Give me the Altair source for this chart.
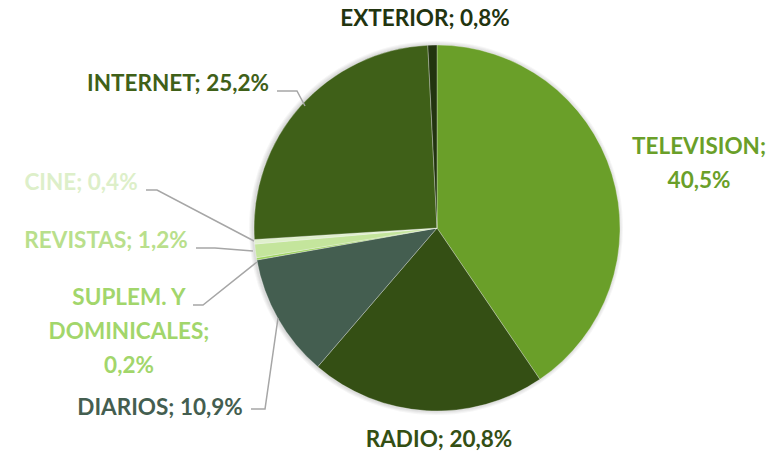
import altair as alt
import pandas as pd

categories = ["TELEVISION", "RADIO", "DIARIOS", "SUPLEM. Y DOMINICALES",
              "REVISTAS", "CINE", "INTERNET", "EXTERIOR"]
shares = [40.5, 20.8, 10.9, 0.2, 1.2, 0.4, 25.2, 0.8]
slice_colors = ["#6a9f29", "#344f14", "#445e50", "#9cd35c",
                "#c4e59c", "#e0f0cd", "#3f6018", "#22340f"]
label_colors = ["#6a9f29", "#344f14", "#445e50", "#a2d66b",
                "#b9df8c", "#ddefc9", "#3f6018", "#22340f"]
label_texts = ["TELEVISION;\n40,5%", "RADIO; 20,8%", "DIARIOS; 10,9%",
               "SUPLEM. Y\nDOMINICALES;\n0,2%", "REVISTAS; 1,2%",
               "CINE; 0,4%", "INTERNET; 25,2%", "EXTERIOR; 0,8%"]

# layout (pixel positions inside chart; y of first line)
label_x = [691, 431, 152, 121, 98, 73, 170, 417]
label_y = [139, 432, 400, 290, 233, 175, 76, 11]
leader_cat = ["INTERNET"] * 3 + ["CINE"] * 3 + ["REVISTAS"] * 3 + ["SUPLEM"] * 3 + ["DIARIOS"] * 3
leader_x = [269, 289, 297, 138, 149, 246, 188, 207, 245, 185, 195, 249, 243, 257, 270]
leader_y = [83, 83, 98, 182, 182, 233, 240, 240, 243, 297, 297, 254, 401, 401, 310]
leader_ord = [0, 1, 2] * 5

CX, CY, R = 429, 220, 183

pie_df = pd.DataFrame({"cat": categories, "share": shares, "idx": range(len(categories))})
lab_df = pd.DataFrame({"cat": categories, "text": label_texts, "x": label_x, "y": label_y,
                       "col": label_colors})
lead_df = pd.DataFrame({"cat": leader_cat, "x": leader_x, "y": leader_y, "o": leader_ord})
one_df = pd.DataFrame({"k": [0]})

shadows = [
    alt.Chart(one_df).mark_arc(color="#000000", opacity=0.035, outerRadius=R + d,
                               theta=0, theta2=6.2832).encode(
        x=alt.value(CX - 1), y=alt.value(CY)
    )
    for d in (4, 3, 2, 1)
]

pie = alt.Chart(pie_df).mark_arc(outerRadius=R, stroke="#ffffff", strokeWidth=0.3).encode(
    theta=alt.Theta("share:Q", stack=True),
    order=alt.Order("idx:Q"),
    color=alt.Color("cat:N", scale=alt.Scale(domain=categories, range=slice_colors), legend=None),
    x=alt.value(CX),
    y=alt.value(CY),
)

leaders = alt.Chart(lead_df).mark_line(color="#a6a6a6", strokeWidth=1.5).encode(
    x=alt.X("x:Q", scale=None, axis=None),
    y=alt.Y("y:Q", scale=None, axis=None),
    detail="cat:N",
    order="o:Q",
)

labels = alt.Chart(lab_df).mark_text(
    font="Lato", fontWeight="bold", fontSize=22.5, lineBreak="\n", lineHeight=34,
    align="center", baseline="middle"
).encode(
    x=alt.X("x:Q", scale=None, axis=None),
    y=alt.Y("y:Q", scale=None, axis=None),
    text="text:N",
    color=alt.Color("col:N", scale=None),
)

chart = alt.layer(*shadows, pie, leaders, labels).properties(
    width=763, height=446,
    autosize=alt.AutoSizeParams(type="none"),
    padding=0,
).configure_view(stroke=None)

chart.save("out.html", embed_options={"renderer": "svg", "actions": False})
